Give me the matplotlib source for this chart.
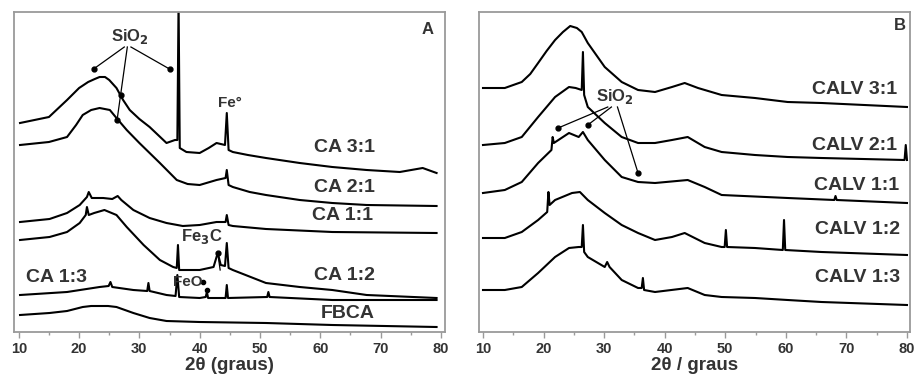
import matplotlib
matplotlib.use("Agg")
import matplotlib.pyplot as plt
from matplotlib.ticker import MultipleLocator

plt.rcParams["font.family"] = ["Liberation Sans", "DejaVu Sans"]
plt.rcParams["font.weight"] = "bold"

# ---- panel A: CA series (2theta in degrees, intensity in a.u. with offset) ----
ca31_2t = [10.2, 15, 18, 20, 21.5, 22.6, 23.4, 24.3, 25, 26.2, 27.3, 28.4, 30, 31.7, 34.5, 35.9,
           36.3, 36.5, 36.7, 37.8, 40, 41.5, 42.8, 44.2, 44.5, 44.8, 45.5, 48, 51, 56.6, 62,
           67.7, 73.2, 77, 79.3]
ca31_i = [209, 215, 232, 244, 250, 253, 255, 255, 252, 244, 232, 222, 213, 205, 189, 192,
          192, 330, 184, 180, 179, 184, 189, 187, 219, 182, 180, 177, 174, 169, 165,
          162, 160, 164, 159]

ca21_2t = [10.2, 15, 18, 19.5, 20.6, 22, 23.4, 25.1, 26.2, 27.9, 30, 33.4, 36.2, 38, 40, 42.8,
           44.3, 44.5, 44.8, 45.5, 48.3, 51, 56.6, 62, 67.7, 79.3]
ca21_i = [187, 190, 195, 207, 217, 222, 224, 222, 214, 202, 189, 169, 152, 148, 147, 152,
          154, 162, 147, 145, 140, 137, 132, 129, 127, 126]

ca11_2t = [10.2, 15.1, 18, 20.1, 21.3, 21.6, 22.1, 24, 25.5, 26.4, 27, 29, 31.7, 34.5, 37.2,
           40, 42.8, 44.3, 44.5, 44.8, 45.5, 51, 62, 79.3]
ca11_i = [110, 113, 119, 127, 135, 140, 134, 134, 133, 136, 132, 122, 114, 109, 106,
          107, 110, 110, 117, 107, 106, 103, 100, 99]

ca12_2t = [10.2, 15.1, 18, 20.1, 21.1, 21.3, 21.6, 22.5, 24.2, 26.2, 27.9, 30.7, 33.4, 35.6,
           36.2, 36.4, 36.6, 37.2, 40, 42.3, 43, 43.5, 44.2, 44.5, 44.8, 45.5, 51, 56.6, 62,
           67.7, 79.3]
ca12_i = [92, 95, 100, 109, 117, 125, 117, 119, 122, 117, 105, 87, 72, 65,
          64, 87, 62, 62, 62, 65, 79, 67, 66, 89, 64, 62, 49, 45, 42,
          37, 34]

ca13_2t = [10.2, 18, 23.4, 24.9, 25.2, 25.5, 29, 31.3, 31.5, 31.7, 34.5, 36.0, 36.3, 36.6,
           40, 41.0, 41.2, 41.4, 44.3, 44.5, 44.7, 51.2, 51.4, 51.6, 62, 79.3]
ca13_i = [37, 40, 45, 46, 50, 45, 42, 41, 49, 41, 37, 36, 57, 35,
          34, 35, 40, 34, 34, 47, 34, 35, 40, 35, 32, 32]

fbca_2t = [10.2, 15.1, 18, 20.6, 22, 23.4, 24.8, 26.2, 29, 31.7, 34.5, 40, 51, 62, 79.3]
fbca_i = [17, 19, 21, 25, 26, 26, 26, 25, 19, 14, 11, 10, 9, 7, 5]

# ---- panel B: CALV series ----
calv31_2t = [10, 13.6, 16.4, 17.8, 19.1, 20.5, 21.9, 23.2, 24.4, 25.5, 26.3, 27.3, 28.7, 30.1,
             32.9, 35.6, 38.4, 41.2, 43.3, 45.5, 49.4, 54.9, 60.3, 65.9, 80]
calv31_i = [244, 244, 250, 258, 269, 281, 292, 300, 306, 304, 300, 289, 277, 265,
            250, 242, 240, 245, 249, 244, 237, 234, 230, 229, 225]

calv21_2t = [10, 13.6, 16.4, 19.1, 21.9, 24.2, 25.3, 26.3, 26.5, 26.7, 27.3, 30.1, 32.9, 35.6,
             38.4, 41.2, 43.8, 46.6, 49.4, 54.9, 60.3, 65.9, 79.6, 79.8, 80]
calv21_i = [187, 189, 195, 215, 235, 245, 244, 242, 280, 237, 225, 209, 195, 189,
            189, 192, 195, 185, 180, 177, 175, 174, 172, 187, 172]

calv11_2t = [10, 13.6, 16.4, 19.1, 21.3, 21.5, 21.7, 24.2, 25.8, 26.5, 27.3, 30.1, 32.9, 35.6,
             38.4, 43.8, 46.6, 49.4, 60.3, 68.0, 68.2, 68.4, 80]
calv11_i = [139, 142, 150, 169, 182, 195, 189, 199, 195, 200, 192, 172, 155, 150,
            149, 152, 145, 137, 134, 132, 136, 132, 129]

calv12_2t = [10, 13.6, 16.4, 19.1, 20.6, 20.8, 21.0, 21.9, 24.7, 26, 27.3, 30.1, 32.9, 35.6,
             38.4, 41.2, 43.3, 46.6, 49.4, 49.9, 50.1, 50.3, 54.9, 59.5, 59.7, 59.9, 65.9, 80]
calv12_i = [94, 94, 100, 112, 120, 140, 127, 132, 139, 140, 132, 119, 107, 99,
            92, 95, 99, 89, 85, 85, 102, 85, 84, 82, 112, 82, 80, 77]

calv13_2t = [10, 13.6, 16.4, 19.1, 21.9, 24.2, 25.8, 26.3, 26.5, 26.7, 27.3, 30.1, 30.5, 30.9,
             32.9, 35.6, 36.2, 36.4, 36.6, 38.4, 43.8, 46.6, 49.4, 54.9, 60.3, 65.9, 80]
calv13_i = [42, 42, 45, 59, 75, 84, 85, 85, 107, 80, 75, 65, 70, 65,
            52, 44, 44, 54, 42, 40, 44, 37, 35, 34, 32, 30, 27]

labels_a = ["CA 3:1", "CA 2:1", "CA 1:1", "CA 1:2", "CA 1:3", "FBCA"]
labels_b = ["CALV 3:1", "CALV 2:1", "CALV 1:1", "CALV 1:2", "CALV 1:3"]

TXT = "#333333"
FRAME = "#9a9a9a"


def style_axes(ax, xlim, xlabel):
    ax.set_xlim(*xlim)
    ax.set_ylim(0, 320)
    ax.set_yticks([])
    ax.xaxis.set_major_locator(MultipleLocator(10))
    ax.xaxis.set_minor_locator(MultipleLocator(5))
    ax.tick_params(axis="x", which="major", direction="out", length=4, width=1,
                   color=FRAME, labelsize=10.5, labelcolor=TXT, pad=3)
    ax.tick_params(axis="x", which="minor", direction="out", length=2, width=1, color=FRAME)
    for lab in ax.get_xticklabels():
        lab.set_fontweight("bold")
    for s in ax.spines.values():
        s.set_color(FRAME)
        s.set_linewidth(1.3)
    ax.set_xlabel(xlabel, fontsize=13.5, fontweight="bold", color=TXT, labelpad=1)


def pointer(ax, start, end):
    ax.plot([start[0], end[0]], [start[1], end[1]], color="black", lw=0.9)
    ax.plot(end[0], end[1], "o", color="black", ms=3.5)


fig = plt.figure(figsize=(9.15, 3.87), dpi=100)
ax_a = fig.add_axes([14 / 915, 55 / 387, 431 / 915, 320 / 387])
ax_b = fig.add_axes([479 / 915, 55 / 387, 431 / 915, 320 / 387])

lw = 1.5
for x, y in [(ca31_2t, ca31_i), (ca21_2t, ca21_i), (ca11_2t, ca11_i),
             (ca12_2t, ca12_i), (ca13_2t, ca13_i), (fbca_2t, fbca_i)]:
    ax_a.plot(x, y, color="black", lw=lw)

for x, y in [(calv31_2t, calv31_i), (calv21_2t, calv21_i), (calv11_2t, calv11_i),
             (calv12_2t, calv12_i), (calv13_2t, calv13_i)]:
    ax_b.plot(x, y, color="black", lw=lw)

style_axes(ax_a, (9.2, 80.7), "2θ (graus)")
style_axes(ax_b, (9.34, 80.5), "2θ / graus")

fs = 14
for lab, (xx, yy) in zip(labels_a, [(64.1, 184), (64.1, 144), (63.7, 117), (64.1, 57),
                                     (16.3, 54), (64.6, 19)]):
    ax_a.text(xx, yy, lab, fontsize=fs, fontweight="bold", color=TXT, ha="center", va="center")
for lab, (xx, yy) in zip(labels_b, [(71.4, 242), (71.4, 187), (71.7, 147), (71.9, 102),
                                     (71.9, 54)]):
    ax_b.text(xx, yy, lab, fontsize=fs, fontweight="bold", color=TXT, ha="center", va="center")

# panel A annotations
ax_a.text(77.8, 302, "A", fontsize=12, fontweight="bold", color=TXT, ha="center", va="center")
ax_a.text(28.4, 296, "SiO$_\\mathbf{2}$", fontsize=12, fontweight="bold", color=TXT,
          ha="center", va="center")
pointer(ax_a, (27.5, 285), (22.4, 263))
pointer(ax_a, (28.0, 285), (26.3, 212))
ax_a.plot(26.9, 237, "o", color="black", ms=3.5)
pointer(ax_a, (28.6, 285), (35.0, 263))
ax_a.text(45.0, 229, "Fe°", fontsize=11, fontweight="bold", color=TXT, ha="center", va="center")
ax_a.text(40.3, 95, "Fe$_\\mathbf{3}$C", fontsize=12, fontweight="bold", color=TXT,
          ha="center", va="center")
pointer(ax_a, (43.4, 62), (43.0, 79))
ax_a.text(38.0, 50, "FeO", fontsize=11, fontweight="bold", color=TXT, ha="center", va="center")
ax_a.plot([40.5, 41.3], [50, 42], "o", color="black", ms=3)

# panel B annotations
ax_b.text(78.8, 307, "B", fontsize=12, fontweight="bold", color=TXT, ha="center", va="center")
ax_b.text(31.8, 236, "SiO$_\\mathbf{2}$", fontsize=12, fontweight="bold", color=TXT,
          ha="center", va="center")
pointer(ax_b, (30.6, 225), (22.4, 204))
pointer(ax_b, (31.2, 225), (27.3, 207))
pointer(ax_b, (32.2, 225), (35.6, 159))

fig.savefig("out.png", dpi=100)
